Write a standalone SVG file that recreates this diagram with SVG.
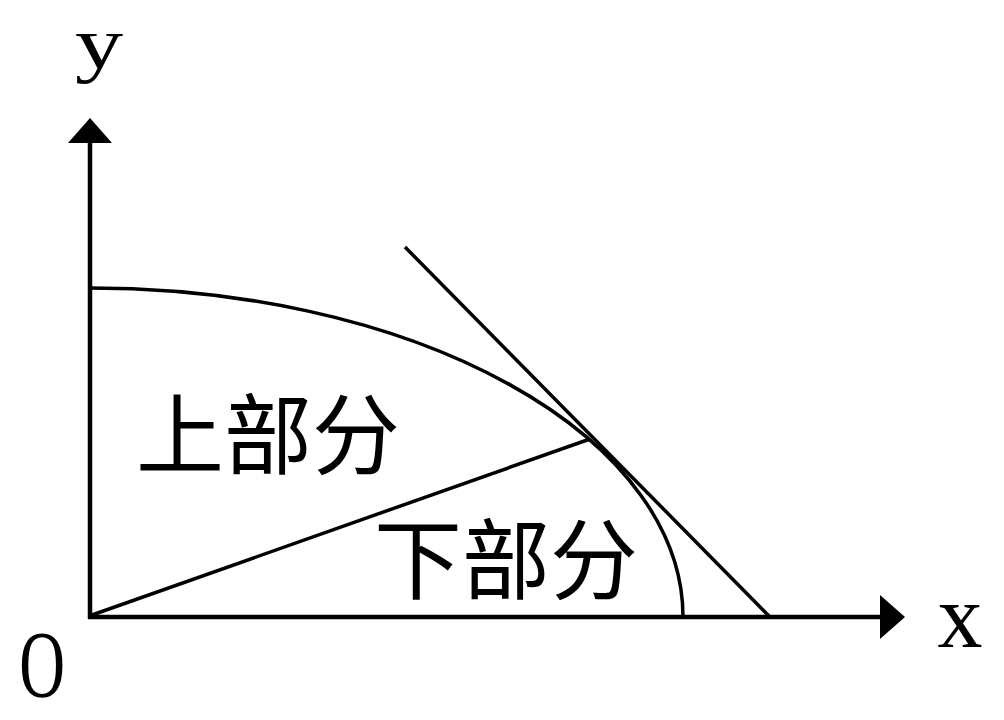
<svg xmlns="http://www.w3.org/2000/svg" width="1004" height="720" viewBox="0 0 1004 720">
<style>
.ax{stroke:#000;stroke-width:4.5;fill:none}
.ln{stroke:#000;stroke-width:3.5;fill:none}
.lat{font-family:"Liberation Serif",serif;fill:#000}
.cjk{font-family:"Liberation Sans","Noto Sans CJK SC",sans-serif;font-size:88px;fill:#000}
</style>
<rect width="1004" height="720" fill="#fff"/>
<g id="axes">
<line class="ax" x1="90" y1="619" x2="90" y2="138"/>
<polygon points="90,118 68,143 112,143" fill="#000"/>
<line class="ax" x1="88" y1="617" x2="885" y2="617"/>
<polygon points="905,617 880,595 880,639" fill="#000"/>
</g>
<g id="connectors">
<path id="ellipse" class="ln" d="M90,288 A593,329 0 0 1 683,617"/>
<line id="tangent" class="ln" x1="405" y1="247" x2="770" y2="617"/>
<line id="radius" class="ln" x1="92" y1="615" x2="590" y2="439"/>
</g>
<g id="labels">
<text class="lat" transform="translate(99,68) scale(1.3,1)" font-size="74" text-anchor="middle">y</text>
<text class="lat" x="960" y="647" font-size="90" text-anchor="middle">x</text>
<text class="lat" transform="translate(42,697) scale(0.66,1)" font-size="96" text-anchor="middle">O</text>
<text id="upper" class="cjk" x="136" y="467">上部分</text>
<text id="lower" class="cjk" x="374" y="592">下部分</text>
</g>
</svg>
